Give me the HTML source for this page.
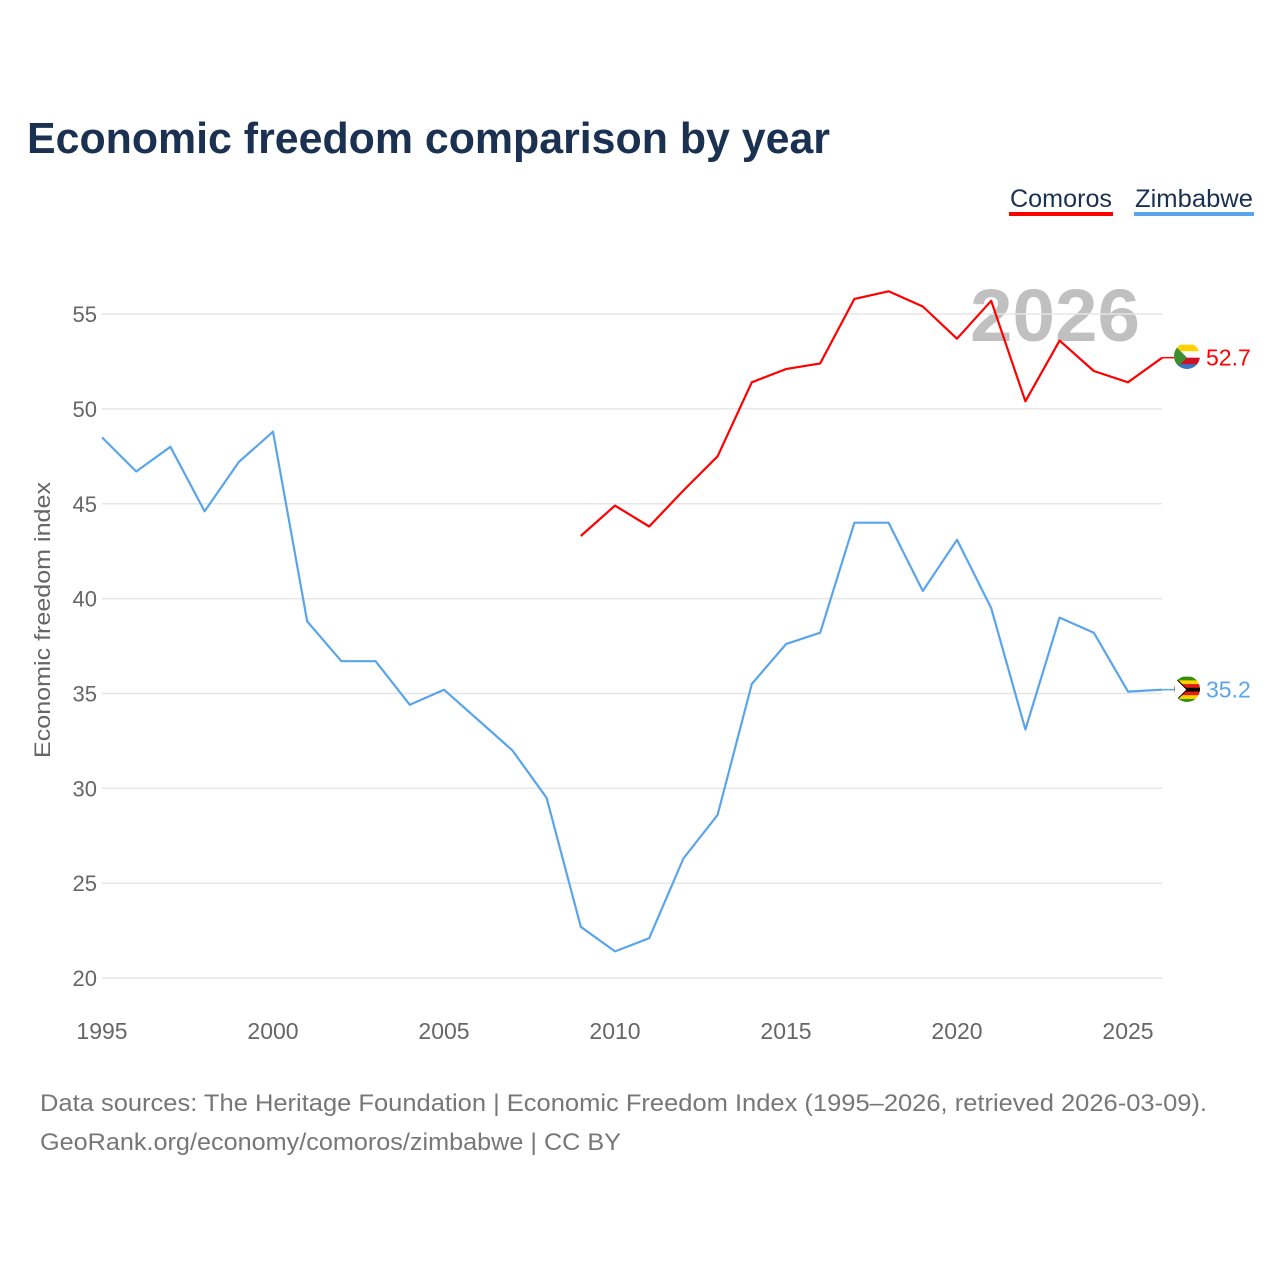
<!DOCTYPE html>
<html><head><meta charset="utf-8"><style>
html,body{margin:0;padding:0;background:#fff;width:1280px;height:1280px;overflow:hidden;font-family:"Liberation Sans",sans-serif;}
</style></head><body>
<svg id="chart" width="1280" height="1280" xmlns="http://www.w3.org/2000/svg" font-family="Liberation Sans, sans-serif">
<defs>
<clipPath id="fc1"><circle cx="1187" cy="356" r="13"/></clipPath>
<clipPath id="fc2"><circle cx="1187" cy="689" r="13"/></clipPath>
</defs>
<text x="27" y="153" font-size="44" font-weight="bold" fill="#1b3152" textLength="803" lengthAdjust="spacingAndGlyphs">Economic freedom comparison by year</text>
<g>
<text x="1010" y="207" font-size="25" fill="#1b3152" textLength="102" lengthAdjust="spacingAndGlyphs">Comoros</text>
<rect x="1009" y="212" width="104" height="4" fill="#ff0000"/>
<text x="1135" y="207" font-size="25" fill="#1b3152" textLength="118" lengthAdjust="spacingAndGlyphs">Zimbabwe</text>
<rect x="1134" y="212" width="120" height="4" fill="#5aa5ea"/>
</g>
<text x="1140" y="341" font-size="74" font-weight="bold" fill="#c0c0c0" text-anchor="end" textLength="170" lengthAdjust="spacingAndGlyphs">2026</text>
<g id="grid"></g><g id="axes"></g><g id="series"></g>
<text transform="translate(50,620) rotate(-90)" font-size="22" fill="#666" text-anchor="middle" textLength="276" lengthAdjust="spacingAndGlyphs">Economic freedom index</text>
<text x="40" y="1111" font-size="24" fill="#777" textLength="1167" lengthAdjust="spacingAndGlyphs">Data sources: The Heritage Foundation | Economic Freedom Index (1995–2026, retrieved 2026-03-09).</text>
<text x="40" y="1150" font-size="24" fill="#777" textLength="581" lengthAdjust="spacingAndGlyphs">GeoRank.org/economy/comoros/zimbabwe | CC BY</text>
</svg>
<script>
const years=[1995,1996,1997,1998,1999,2000,2001,2002,2003,2004,2005,2006,2007,2008,2009,2010,2011,2012,2013,2014,2015,2016,2017,2018,2019,2020,2021,2022,2023,2024,2025,2026];
const zimbabwe=[48.5,46.7,48.0,44.6,47.2,48.8,38.8,36.7,36.7,34.4,35.2,33.6,32.0,29.5,22.7,21.4,22.1,26.3,28.6,35.5,37.6,38.2,44.0,44.0,40.4,43.1,39.5,33.1,39.0,38.2,35.1,35.2];
const comoros=[null,null,null,null,null,null,null,null,null,null,null,null,null,null,43.3,44.9,43.8,45.7,47.5,51.4,52.1,52.4,55.8,56.2,55.4,53.7,55.7,50.4,53.6,52.0,51.4,52.7];
const yTicks=[20,25,30,35,40,45,50,55];
const xTicks=[1995,2000,2005,2010,2015,2020,2025];
const NS="http://www.w3.org/2000/svg";
const X=v=>102+(v-1995)*34.2;
const Y=v=>978-(v-20)*18.97;
function mk(t,a,p){const e=document.createElementNS(NS,t);for(const k in a)e.setAttribute(k,a[k]);p.appendChild(e);return e;}
const g=document.getElementById('grid'),ax=document.getElementById('axes'),s=document.getElementById('series');
yTicks.forEach(v=>{
 const l=mk('line',{x1:102,x2:1162,y1:Y(v),y2:Y(v),stroke:'#e6e6e6','stroke-width':1.5},g);
 
 
 const t=mk('text',{x:97,y:Y(v)+8,'font-size':22,fill:'#666','text-anchor':'end'},ax);t.textContent=v;
 
 
});
xTicks.forEach(v=>{
 const t=mk('text',{x:X(v),y:1039,'font-size':23,fill:'#666','text-anchor':'middle'},ax);t.textContent=v;
 
 
});
function flag(name,cy,clip){
 const grp=mk('g',{'clip-path':'url(#'+clip+')'},s);
 
 
 const x0=1174,w=26;
 let cols=name==='comoros'?['#ffd100','#ffffff','#ce1126','#3a75c4']:['#319208','#ffd200','#de2010','#000000','#de2010','#ffd200','#319208'];
 const h=26/cols.length;
 cols.forEach((c,i)=>mk('rect',{x:x0,y:cy-13+i*h,width:w,height:h+0.5,fill:c},grp));
 mk('polygon',{points:x0+','+(cy-13)+' '+(x0+13)+','+cy+' '+x0+','+(cy+13),fill:name==='comoros'?'#3d8e33':'#ffffff',stroke:name==='comoros'?'none':'#000','stroke-width':1},grp);
}
function line(vals,color,name,clip){
 let d='';vals.forEach((v,i)=>{if(v==null)return;d+=(d?'L':'M')+X(years[i]).toFixed(1)+','+Y(v).toFixed(1);});
 const p=mk('path',{d:d,fill:'none',stroke:color,'stroke-width':2.2,'stroke-linejoin':'round'},s);
 
 
 const last=vals[vals.length-1],cy=Y(last);
 mk('line',{x1:X(2026),x2:1176,y1:cy,y2:cy,stroke:color,'stroke-width':1.5},s);
 flag(name,cy,clip);
 const t=mk('text',{x:1206,y:cy+8,'font-size':23,fill:color},s);t.textContent=last.toFixed(1);
 
 
}
line(zimbabwe,'#5aa5ea','zimbabwe','fc2');
line(comoros,'#ff0000','comoros','fc1');
</script>
</body></html>
